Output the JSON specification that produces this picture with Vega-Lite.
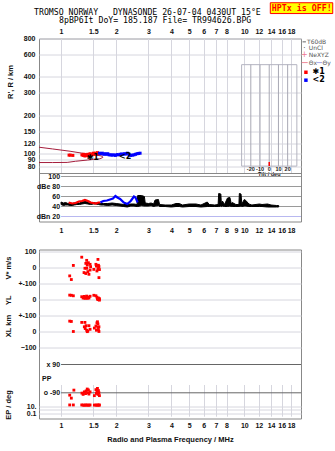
{
"$schema":"https://vega.github.io/schema/vega-lite/v6.json",
"autosize":{"type":"pad"},
"padding":{"left":3,"top":1.5,"right":0,"bottom":4},
"background":"white",
"config":{
 "font":"Liberation Sans",
 "view":{"stroke":"#888888","strokeWidth":1},
 "axis":{"labelFont":"Liberation Sans","labelFontSize":7,"labelFontWeight":"bold","labelColor":"#111111","titleFont":"Liberation Sans","titleFontSize":7.5,"titleFontWeight":"bold","titleColor":"#111111","gridColor":"#d6d6de","ticks":false,"domain":false,"labelFlush":false,"labelOverlap":false}
},
"datasets":{
 "curve":[{"i":0,"f":0.758,"r":112.5},{"i":1,"f":0.9,"r":109},{"i":2,"f":1.12,"r":104.6},{"i":3,"f":1.39,"r":99.5},{"i":4,"f":1.55,"r":97.5},{"i":5,"f":1.67,"r":96},{"i":6,"f":1.69,"r":93.5},{"i":7,"f":1.63,"r":91.2},{"i":8,"f":1.5,"r":90.3},{"i":9,"f":1.39,"r":89.2},{"i":10,"f":1.2,"r":87.3},{"i":11,"f":1.08,"r":85.5},{"i":12,"f":0.9,"r":85.3},{"i":13,"f":0.758,"r":85.3}],
 "echo":[{"m":"1","f":1.106,"r":97.5},{"m":"1","f":1.124,"r":97.5},{"m":"1","f":1.16,"r":97},{"m":"1","f":1.3,"r":98},{"m":"1","f":1.32,"r":97},{"m":"1","f":1.33,"r":99},{"m":"1","f":1.35,"r":96},{"m":"1","f":1.36,"r":98},{"m":"1","f":1.38,"r":97},{"m":"1","f":1.4,"r":99},{"m":"1","f":1.41,"r":96},{"m":"1","f":1.43,"r":98},{"m":"1","f":1.44,"r":100},{"m":"1","f":1.46,"r":97},{"m":"1","f":1.48,"r":99},{"m":"1","f":1.5,"r":101},{"m":"1","f":1.52,"r":99},{"m":"1","f":1.54,"r":101},{"m":"1","f":1.56,"r":100},{"m":"1","f":1.58,"r":102},{"m":"1","f":1.6,"r":100},
  {"m":"2","f":1.62,"r":101},{"m":"2","f":1.65,"r":100},{"m":"2","f":1.68,"r":101},{"m":"2","f":1.71,"r":99},{"m":"2","f":1.74,"r":100},{"m":"2","f":1.77,"r":99},{"m":"2","f":1.8,"r":100},{"m":"2","f":1.83,"r":98},{"m":"2","f":1.87,"r":98},{"m":"2","f":1.9,"r":97.5},{"m":"2","f":1.94,"r":98},{"m":"2","f":1.98,"r":97},{"m":"2","f":2.02,"r":98.5},{"m":"2","f":2.06,"r":98},{"m":"2","f":2.1,"r":99},{"m":"2","f":2.14,"r":99.5},{"m":"2","f":2.18,"r":99},{"m":"2","f":2.22,"r":100},{"m":"2","f":2.26,"r":99.5},{"m":"2","f":2.3,"r":101},{"m":"2","f":2.35,"r":98},{"m":"2","f":2.4,"r":97},{"m":"2","f":2.45,"r":97.5},{"m":"2","f":2.5,"r":98},{"m":"2","f":2.55,"r":99},{"m":"2","f":2.6,"r":100},{"m":"2","f":2.65,"r":100.5},{"m":"2","f":2.7,"r":101}],
 "noise":[{"f":1.0,"hi":49,"lo":44},{"f":1.03,"hi":47,"lo":42},{"f":1.06,"hi":48,"lo":43},{"f":1.09,"hi":46,"lo":43},{"f":1.12,"hi":47,"lo":42},{"f":1.15,"hi":46,"lo":42},{"f":1.18,"hi":47,"lo":43},{"f":1.22,"hi":48,"lo":44},{"f":1.26,"hi":47,"lo":44},{"f":1.3,"hi":49,"lo":45},{"f":1.35,"hi":50,"lo":46},{"f":1.4,"hi":49,"lo":45},{"f":1.45,"hi":47,"lo":44},{"f":1.5,"hi":48,"lo":45},{"f":1.55,"hi":47,"lo":45},{"f":1.6,"hi":47,"lo":44},{"f":1.65,"hi":46,"lo":43},{"f":1.7,"hi":46,"lo":43},{"f":1.8,"hi":46,"lo":42},{"f":1.9,"hi":47,"lo":43},{"f":2.0,"hi":46,"lo":42},{"f":2.1,"hi":45,"lo":41},{"f":2.2,"hi":44,"lo":40},{"f":2.3,"hi":44,"lo":39},{"f":2.4,"hi":45,"lo":41},{"f":2.5,"hi":45,"lo":41},{"f":2.6,"hi":44,"lo":40},{"f":2.62,"hi":62,"lo":40},{"f":2.75,"hi":62,"lo":42},{"f":2.85,"hi":60,"lo":41},{"f":2.88,"hi":47,"lo":41},{"f":3.0,"hi":46,"lo":41},{"f":3.1,"hi":47,"lo":42},{"f":3.2,"hi":45,"lo":40},{"f":3.26,"hi":53,"lo":41},{"f":3.4,"hi":54,"lo":42},{"f":3.45,"hi":44,"lo":40},{"f":3.7,"hi":43,"lo":40},{"f":4.0,"hi":43,"lo":39},{"f":4.24,"hi":46,"lo":40},{"f":4.42,"hi":46,"lo":40},{"f":4.6,"hi":43,"lo":39},{"f":5.0,"hi":45,"lo":40},{"f":5.45,"hi":45,"lo":40},{"f":5.8,"hi":43,"lo":39},{"f":6.28,"hi":49,"lo":40},{"f":6.44,"hi":44,"lo":40},{"f":6.9,"hi":43,"lo":40},{"f":7.2,"hi":44,"lo":40},{"f":7.25,"hi":66,"lo":40},{"f":7.45,"hi":65,"lo":41},{"f":7.5,"hi":45,"lo":40},{"f":7.6,"hi":51,"lo":41},{"f":7.8,"hi":44,"lo":40},{"f":8.1,"hi":57,"lo":40},{"f":8.35,"hi":58,"lo":41},{"f":8.5,"hi":45,"lo":40},{"f":8.6,"hi":48,"lo":40},{"f":9.0,"hi":44,"lo":40},{"f":9.35,"hi":44,"lo":40},{"f":9.4,"hi":66,"lo":40},{"f":9.6,"hi":65,"lo":41},{"f":9.7,"hi":45,"lo":40},{"f":10.0,"hi":54,"lo":41},{"f":10.2,"hi":52,"lo":41},{"f":10.6,"hi":45,"lo":40},{"f":11.0,"hi":43,"lo":40},{"f":12.1,"hi":45,"lo":40},{"f":12.5,"hi":44,"lo":40},{"f":13.4,"hi":45,"lo":39},{"f":14.0,"hi":43,"lo":39},{"f":15.0,"hi":42,"lo":39},{"f":15.4,"hi":42,"lo":39}],
 "dbred":[{"f":1.1,"d":48},{"f":1.15,"d":46},{"f":1.2,"d":47},{"f":1.25,"d":50},{"f":1.3,"d":51},{"f":1.35,"d":53},{"f":1.38,"d":52},{"f":1.42,"d":50},{"f":1.45,"d":48},{"f":1.5,"d":47},{"f":1.55,"d":46},{"f":1.6,"d":48},{"f":1.64,"d":48}],
 "dbblue":[{"f":1.64,"d":48},{"f":1.7,"d":51},{"f":1.78,"d":52},{"f":1.85,"d":54},{"f":1.92,"d":56},{"f":1.98,"d":61},{"f":2.03,"d":58},{"f":2.1,"d":55},{"f":2.2,"d":48},{"f":2.3,"d":45},{"f":2.4,"d":51},{"f":2.5,"d":60},{"f":2.55,"d":58},{"f":2.62,"d":48}],
 "vs":[{"f":1.115,"v":-52},{"f":1.138,"v":-75},{"f":1.167,"v":14},{"f":1.297,"v":66},{"f":1.335,"v":-31},{"f":1.35,"v":-4},{"f":1.365,"v":27},{"f":1.365,"v":-37},{"f":1.38,"v":46},{"f":1.38,"v":-4},{"f":1.39,"v":16},{"f":1.4,"v":-25},{"f":1.41,"v":31},{"f":1.42,"v":-42},{"f":1.44,"v":21},{"f":1.45,"v":6},{"f":1.44,"v":-15},{"f":1.51,"v":-11},{"f":1.55,"v":21},{"f":1.56,"v":10},{"f":1.57,"v":-21},{"f":1.59,"v":52},{"f":1.59,"v":-6},{"f":1.6,"v":15},{"f":1.61,"v":7},{"f":1.61,"v":-63},{"f":1.62,"v":-12}],
 "yl":[{"f":1.115,"yl":28},{"f":1.138,"yl":27},{"f":1.167,"yl":24},{"f":1.297,"yl":18},{"f":1.32,"yl":10},{"f":1.34,"yl":20},{"f":1.35,"yl":8},{"f":1.365,"yl":12},{"f":1.38,"yl":22},{"f":1.39,"yl":8},{"f":1.4,"yl":15},{"f":1.42,"yl":10},{"f":1.44,"yl":21},{"f":1.51,"yl":27},{"f":1.55,"yl":24},{"f":1.57,"yl":15},{"f":1.58,"yl":5},{"f":1.59,"yl":0},{"f":1.6,"yl":10},{"f":1.61,"yl":2},{"f":1.62,"yl":-3},{"f":1.62,"yl":6}],
 "xl":[{"f":1.115,"xl":66},{"f":1.138,"xl":64},{"f":1.167,"xl":0},{"f":1.297,"xl":58},{"f":1.34,"xl":30},{"f":1.35,"xl":58},{"f":1.355,"xl":19},{"f":1.37,"xl":37},{"f":1.38,"xl":8},{"f":1.39,"xl":-1},{"f":1.4,"xl":3},{"f":1.42,"xl":37},{"f":1.44,"xl":14},{"f":1.52,"xl":22},{"f":1.55,"xl":35},{"f":1.56,"xl":8},{"f":1.57,"xl":55},{"f":1.58,"xl":62},{"f":1.59,"xl":26},{"f":1.59,"xl":48},{"f":1.6,"xl":12},{"f":1.61,"xl":0},{"f":1.61,"xl":30}],
 "pp":[{"f":1.115,"pp":-105},{"f":1.138,"pp":-124},{"f":1.175,"pp":-73},{"f":1.3,"pp":-92},{"f":1.32,"pp":-100},{"f":1.34,"pp":-84},{"f":1.36,"pp":-95},{"f":1.37,"pp":-78},{"f":1.39,"pp":-66},{"f":1.4,"pp":-90},{"f":1.41,"pp":-72},{"f":1.42,"pp":-98},{"f":1.44,"pp":-84},{"f":1.52,"pp":-108},{"f":1.55,"pp":-70},{"f":1.56,"pp":-94},{"f":1.57,"pp":-82},{"f":1.58,"pp":-62},{"f":1.59,"pp":-100},{"f":1.6,"pp":-76},{"f":1.61,"pp":-90},{"f":1.62,"pp":-108}],
 "ep":[{"f":1.115,"ep":22},{"f":1.167,"ep":22},{"f":1.297,"ep":22},{"f":1.32,"ep":20},{"f":1.34,"ep":18},{"f":1.36,"ep":22},{"f":1.38,"ep":19},{"f":1.4,"ep":21},{"f":1.42,"ep":18},{"f":1.44,"ep":22},{"f":1.52,"ep":20},{"f":1.55,"ep":21},{"f":1.57,"ep":18},{"f":1.59,"ep":22},{"f":1.61,"ep":19},{"f":1.62,"ep":21}]
},
"bounds":"flush",
"spacing":28,
"vconcat":[
  {"width":262,"height":183,
   "layer":[
    {"layer":[
     {"data":{"name":"curve"},"mark":{"type":"line","color":"#a51d3c","strokeWidth":1},
      "encoding":{
       "x":{"field":"f","type":"quantitative","scale":{"type":"log","domain":[0.758,20.4],"nice":false},"axis":{"orient":"top","values":[1,1.5,2,3,4,5,6,7,8,10,12,14,16,18],"grid":true,"title":null,"labelPadding":4}},
       "y":{"field":"r","type":"quantitative","scale":{"type":"log","domain":[70,800],"range":[135,0],"nice":false},"axis":{"values":[80,90,100,120,150,200,300,400,600,800],"grid":true,"title":"R', R / km","titleX":-25,"titleY":43,"labelPadding":4}},
       "order":{"field":"i"}}},
     {"data":{"name":"echo"},"mark":{"type":"square","size":9,"opacity":1},
      "encoding":{"x":{"field":"f","type":"quantitative"},"y":{"field":"r","type":"quantitative"},
       "color":{"field":"m","type":"nominal","scale":{"domain":["1","2"],"range":["#ff0000","#0000ff"]},"legend":null}}},
     {"data":{"values":[{"f":1.49,"r":93,"t":"✱1"},{"f":2.24,"r":93.5,"t":"<2"}]},
      "mark":{"type":"text","font":"DejaVu Sans","fontSize":8,"fontWeight":"bold","color":"#000000","baseline":"middle"},
      "encoding":{"x":{"field":"f","type":"quantitative"},"y":{"field":"r","type":"quantitative"},"text":{"field":"t"}}},
     {"data":{"values":[{"a":20.8,"b":21.7,"r":754}]},"mark":{"type":"rule","color":"#9a9a9a","strokeWidth":1.5,"clip":false},
      "encoding":{"x":{"field":"a","type":"quantitative"},"x2":{"field":"b"},"y":{"field":"r","type":"quantitative"}}},
     {"data":{"values":[{"a":20.6,"b":22.2,"r":518}]},"mark":{"type":"rule","color":"#f08898","strokeWidth":1,"clip":false},
      "encoding":{"x":{"field":"a","type":"quantitative"},"x2":{"field":"b"},"y":{"field":"r","type":"quantitative"}}},
     {"data":{"values":[{"a":24.9,"b":26.6,"r":518}]},"mark":{"type":"rule","color":"#a8a8e8","strokeWidth":1,"clip":false},
      "encoding":{"x":{"field":"a","type":"quantitative"},"x2":{"field":"b"},"y":{"field":"r","type":"quantitative"}}},
     {"data":{"values":[{"f":22.0,"r":754,"t":"T60dB"},{"f":22.5,"r":674,"t":"UnCl"},{"f":22.5,"r":590,"t":"NeXYZ"},{"f":22.5,"r":518,"t":"Θx"},{"f":26.7,"r":518,"t":"Θy"}]},
      "mark":{"type":"text","font":"DejaVu Sans","fontSize":6,"color":"#555555","align":"left","baseline":"middle","clip":false},
      "encoding":{"x":{"field":"f","type":"quantitative"},"y":{"field":"r","type":"quantitative"},"text":{"field":"t"}}},
     {"data":{"values":[{"f":21.3,"r":674,"t":"·"}]},
      "mark":{"type":"text","font":"DejaVu Sans","fontSize":7,"color":"#333333","baseline":"middle","clip":false},
      "encoding":{"x":{"field":"f","type":"quantitative"},"y":{"field":"r","type":"quantitative"},"text":{"field":"t"}}},
     {"data":{"values":[{"f":21.3,"r":590,"t":"+"}]},
      "mark":{"type":"text","font":"DejaVu Sans","fontSize":8,"color":"#f07890","baseline":"middle","clip":false},
      "encoding":{"x":{"field":"f","type":"quantitative"},"y":{"field":"r","type":"quantitative"},"text":{"field":"t"}}},
     {"data":{"values":[{"f":21.7,"r":435,"m":"1"},{"f":21.7,"r":377,"m":"2"}]},
      "mark":{"type":"square","size":12,"opacity":1,"clip":false},
      "encoding":{"x":{"field":"f","type":"quantitative"},"y":{"field":"r","type":"quantitative"},"color":{"field":"m","type":"nominal","legend":null}}},
     {"data":{"values":[{"f":23.6,"r":435,"t":"✱1"},{"f":23.6,"r":377,"t":"<2"}]},
      "mark":{"type":"text","font":"DejaVu Sans","fontSize":8,"fontWeight":"bold","color":"#000000","align":"left","baseline":"middle","clip":false},
      "encoding":{"x":{"field":"f","type":"quantitative"},"y":{"field":"r","type":"quantitative"},"text":{"field":"t"}}},
     {"data":{"values":[{"f":0.712,"r":1225,"t":"TROMSO NORWAY\u00a0\u00a0\u00a0DYNASONDE 26-07-04 0430UT 15°E"},{"f":0.975,"r":1060,"t":"8pBP6It DoY= 185.187 File= TR994626.BPG"}]},
      "mark":{"type":"text","font":"DejaVu Sans Mono","fontSize":8.2,"color":"#000000","align":"left","baseline":"alphabetic","clip":false},
      "encoding":{"x":{"field":"f","type":"quantitative"},"y":{"field":"r","type":"quantitative"},"text":{"field":"t"}}},
     {"data":{"values":[{"a":13.87,"b":30.4,"lo":1255,"hi":1525}]},
      "mark":{"type":"rect","color":"#ffff00","stroke":"#ff0000","strokeWidth":1,"clip":false},
      "encoding":{"x":{"field":"a","type":"quantitative"},"x2":{"field":"b"},"y":{"field":"lo","type":"quantitative"},"y2":{"field":"hi"}}},
     {"data":{"values":[{"f":20.6,"r":1314,"t":"HPTx is OFF!"}]},
      "mark":{"type":"text","font":"DejaVu Sans Mono","fontSize":8.3,"fontWeight":"bold","color":"#ff0000","align":"center","baseline":"alphabetic","clip":false},
      "encoding":{"x":{"field":"f","type":"quantitative"},"y":{"field":"r","type":"quantitative"},"text":{"field":"t"}}}
    ]},
    {"layer":[
     {"data":{"values":[{"a":-30,"b":30,"lo":80,"hi":499}]},
      "mark":{"type":"rect","fillOpacity":0,"stroke":"#b4b4c0","strokeWidth":1},
      "encoding":{"x":{"field":"a","type":"quantitative","scale":{"domain":[-250,34.5],"nice":false,"zero":false},"axis":null},"x2":{"field":"b"},
       "y":{"field":"lo","type":"quantitative","scale":{"type":"log","domain":[70,800],"range":[135,0],"nice":false},"axis":null},"y2":{"field":"hi"}}},
     {"data":{"values":[{"a":-20,"lo":80,"hi":499},{"a":-10,"lo":80,"hi":499},{"a":0,"lo":80,"hi":499},{"a":10,"lo":80,"hi":499},{"a":20,"lo":80,"hi":499}]},
      "mark":{"type":"rule","color":"#a8a8b4"},
      "encoding":{"x":{"field":"a","type":"quantitative"},"y":{"field":"lo","type":"quantitative"},"y2":{"field":"hi"}}},
     {"data":{"values":[{"a":0,"lo":80,"hi":86}]},
      "mark":{"type":"rule","color":"#ff0000","strokeWidth":1.5},
      "encoding":{"x":{"field":"a","type":"quantitative"},"y":{"field":"lo","type":"quantitative"},"y2":{"field":"hi"}}},
     {"data":{"values":[{"a":-20,"r":76,"t":"-20"},{"a":-10,"r":76,"t":"-10"},{"a":0,"r":76,"t":"0"},{"a":10,"r":76,"t":"10"},{"a":20,"r":76,"t":"20"},{"a":0,"r":69.6,"t":"Tilt / deg"}]},
      "mark":{"type":"text","fontSize":5.5,"fontWeight":"bold","color":"#222222","baseline":"middle","clip":false},
      "encoding":{"x":{"field":"a","type":"quantitative"},"y":{"field":"r","type":"quantitative"},"text":{"field":"t"}}}
    ]},
    {"layer":[
     {"data":{"values":[{"d":100},{"d":80},{"d":60},{"d":40}]},
      "mark":{"type":"rule","color":"#9a9a9a"},
      "encoding":{"x":{"datum":1,"type":"quantitative","scale":{"type":"log","domain":[0.758,20.4],"nice":false},"axis":{"orient":"bottom","values":[1,1.5,2,3,4,5,6,7,8,9,10,12,14,16,18],"grid":false,"title":null,"labelPadding":5}},
       "x2":{"datum":20.4},
       "y":{"field":"d","type":"quantitative","scale":{"domain":[10,106],"range":[183,135],"nice":false,"zero":false},"axis":null}}},
     {"data":{"values":[{"d":106}]},
      "mark":{"type":"rule","color":"#888888"},
      "encoding":{"x":{"datum":0.758,"type":"quantitative"},"x2":{"datum":20.4},"y":{"field":"d","type":"quantitative"}}},
     {"data":{"values":[{"d":20}]},
      "mark":{"type":"rule","color":"#b8b8f0"},
      "encoding":{"x":{"datum":1,"type":"quantitative"},"x2":{"datum":20.4},"y":{"field":"d","type":"quantitative"}}},
     {"data":{"values":[{"d":100,"t":"100"},{"d":80,"t":"dBe 80"},{"d":60,"t":"60"},{"d":40,"t":"40"},{"d":20,"t":"dBn 20"}]},
      "mark":{"type":"text","fontSize":7,"fontWeight":"bold","color":"#111111","align":"right","baseline":"middle","dx":-1},
      "encoding":{"x":{"datum":1,"type":"quantitative"},"y":{"field":"d","type":"quantitative"},"text":{"field":"t"}}},
     {"data":{"name":"noise"},"mark":{"type":"area","color":"#000000","stroke":"#000000","strokeWidth":1},
      "encoding":{"x":{"field":"f","type":"quantitative"},"y":{"field":"hi","type":"quantitative"},"y2":{"field":"lo"}}},
     {"data":{"name":"dbred"},"mark":{"type":"line","color":"#ff0000","strokeWidth":2.2},
      "encoding":{"x":{"field":"f","type":"quantitative"},"y":{"field":"d","type":"quantitative"}}},
     {"data":{"name":"dbblue"},"mark":{"type":"line","color":"#0000ff","strokeWidth":2.2},
      "encoding":{"x":{"field":"f","type":"quantitative"},"y":{"field":"d","type":"quantitative"}}}
    ]}
   ],
   "resolve":{"scale":{"x":"independent","y":"independent"}}
  },
 {"width":262,"height":169,
  "layer":[
   {"data":{"name":"vs"},"mark":{"type":"square","size":8,"color":"#ff0000","opacity":1},
    "encoding":{
     "x":{"field":"f","type":"quantitative","scale":{"type":"log","domain":[0.758,20.4],"nice":false},"axis":{"orient":"bottom","values":[1,1.5,2,3,4,5,6,7,8,10,12,14,16,18],"grid":true,"title":"Radio and Plasma Frequency / MHz","labelPadding":3,"titlePadding":7}},
     "y":{"field":"v","type":"quantitative","scale":{"domain":[-100,100],"range":[34,2.3],"nice":false,"zero":false},"axis":{"orient":"left","values":[100,0,-100],"grid":true,"labelExpr":"datum.value == -100 ? '+-100' : datum.label","title":"V* m/s","titleX":-27,"labelPadding":3}}}},
   {"data":{"name":"yl"},"mark":{"type":"square","size":8,"color":"#ff0000","opacity":1},
    "encoding":{"x":{"field":"f","type":"quantitative"},
     "y":{"field":"yl","type":"quantitative","scale":{"domain":[-100,100],"range":[66.3,34],"nice":false,"zero":false},"axis":{"orient":"left","values":[0],"grid":true,"title":"YL","titleX":-27,"labelPadding":3}}}},
   {"data":{"name":"xl"},"mark":{"type":"square","size":8,"color":"#ff0000","opacity":1},
    "encoding":{"x":{"field":"f","type":"quantitative"},
     "y":{"field":"xl","type":"quantitative","scale":{"domain":[-100,100],"range":[97.7,66.3],"nice":false,"zero":false},"axis":{"orient":"left","values":[100,0,-100],"grid":true,"labelExpr":"datum.value == 100 ? '+-100' : datum.label","title":"XL km","titleX":-27,"titleY":76,"labelPadding":3}}}},
   {"layer":[
     {"data":{"values":[{"p":90},{"p":-90}]},"mark":{"type":"rule","color":"#666666"},
      "encoding":{"x":{"datum":1,"type":"quantitative"},"x2":{"datum":20.4},"y":{"field":"p","type":"quantitative","scale":{"domain":[-90,90],"range":[143.3,115],"nice":false,"zero":false},"axis":null}}},
     {"data":{"values":[{"p":90,"t":"x 90"},{"p":-90,"t":"o -90"}]},
      "mark":{"type":"text","fontSize":7,"fontWeight":"bold","color":"#111111","align":"right","baseline":"middle","dx":-1},
      "encoding":{"x":{"datum":1,"type":"quantitative"},"y":{"field":"p","type":"quantitative","axis":null},"text":{"field":"t"}}},
     {"data":{"values":[{"p":0,"t":"PP"}]},
      "mark":{"type":"text","fontSize":7,"fontWeight":"bold","color":"#111111","align":"left","baseline":"middle"},
      "encoding":{"x":{"datum":0.787,"type":"quantitative"},"y":{"field":"p","type":"quantitative","axis":null},"text":{"field":"t"}}},
     {"data":{"name":"pp"},"mark":{"type":"square","size":8,"color":"#ff0000","opacity":1},
      "encoding":{"x":{"field":"f","type":"quantitative"},"y":{"field":"pp","type":"quantitative","axis":null}}}
   ]},
   {"data":{"name":"ep"},"mark":{"type":"square","size":8,"color":"#ff0000","opacity":1},
    "encoding":{"x":{"field":"f","type":"quantitative"},
     "y":{"field":"ep","type":"quantitative","scale":{"type":"log","domain":[0.1,10],"range":[164,156.7],"nice":false},"axis":{"orient":"left","values":[10,1,0.1],"grid":true,"labelExpr":"datum.value == 10 ? '10.' : (datum.value == 1 ? '' : '0.1')","title":"EP / deg","titleX":-27,"titleY":155,"labelPadding":3}}}}
  ],
  "resolve":{"scale":{"y":"independent"}}
 }
]
}
